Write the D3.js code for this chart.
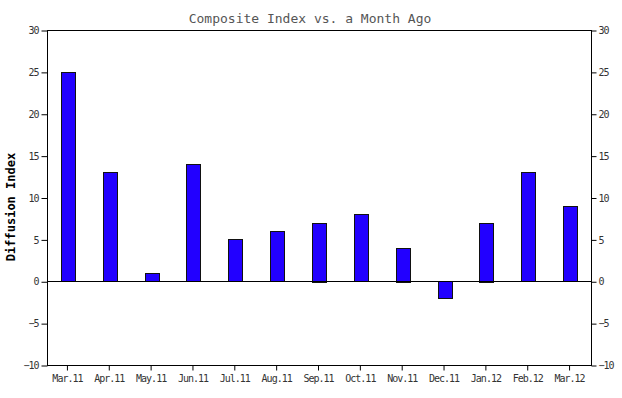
<!DOCTYPE html>
<html><head><meta charset="utf-8">
<script src="https://cdn.jsdelivr.net/npm/d3@7"></script>
<style>body{margin:0;background:#fff}svg{display:block}</style>
</head><body><svg id="c" width="622" height="398"></svg>
<script>
const categories = ["Mar.11","Apr.11","May.11","Jun.11","Jul.11","Aug.11","Sep.11","Oct.11","Nov.11","Dec.11","Jan.12","Feb.12","Mar.12"];
const values = [25, 13, 1, 14, 5, 6, 7, 8, 4, -2, 7, 13, 9];
const yTicks = [-10, -5, 0, 5, 10, 15, 20, 25, 30];
const title = "Composite Index vs. a Month Ago";
const yLabel = "Diffusion Index";

const svg = d3.select("#c");
const L = 47, R = 591, T = 30, B = 365;
const x = d3.scaleBand().domain(categories).range([L, R]).padding(0);
const y = d3.scaleLinear().domain([-10, 30]).range([B, T]);
const font = "'DejaVu Sans Mono', monospace";

// frame
svg.append("rect").attr("x", L + 0.5).attr("y", T + 0.5).attr("width", R - L).attr("height", B - T)
  .attr("fill", "none").attr("stroke", "#000").attr("stroke-width", 1);

// bars
const bw = x.bandwidth() / 3;
svg.append("g").selectAll("rect").data(values).join("rect")
  .attr("x", (d, i) => Math.round(x(categories[i]) + x.bandwidth() / 2 - bw / 2) + 0.5)
  .attr("y", d => Math.round(y(Math.max(0, d))) + 0.5)
  .attr("width", Math.round(bw))
  .attr("height", d => Math.round(Math.abs(y(d) - y(0))))
  .attr("fill", "#2200ff").attr("stroke", "#111").attr("stroke-width", 1);

// zero line
svg.append("line").attr("x1", L).attr("x2", R + 1).attr("y1", Math.round(y(0)) + 0.5).attr("y2", Math.round(y(0)) + 0.5)
  .attr("stroke", "#000");

function styleAxis(g) {
  g.select(".domain").remove();
  g.selectAll("line").attr("stroke", "#000");
  g.selectAll("text").attr("font-family", font).attr("font-size", "10px").attr("fill", "#333")
    .attr("letter-spacing", "-1px");
}

svg.append("g").attr("transform", `translate(${L + 0.5},0.5)`)
  .call(d3.axisLeft(y).tickValues(yTicks).tickSize(6).tickPadding(3)).call(styleAxis);
svg.append("g").attr("transform", `translate(${R + 0.5},0.5)`)
  .call(d3.axisRight(y).tickValues(yTicks).tickSize(5).tickPadding(2)).call(styleAxis);
svg.append("g").attr("transform", `translate(-0.5,${B + 0.5})`)
  .call(d3.axisBottom(x).tickSize(5).tickPadding(4)).call(styleAxis);

// title
svg.append("text").attr("x", 310).attr("y", 23).attr("text-anchor", "middle")
  .attr("font-family", font).attr("font-size", "13px").attr("fill", "#555").text(title);

// y label
svg.append("text").attr("transform", "translate(15,207) rotate(-90)").attr("text-anchor", "middle")
  .attr("font-family", font).attr("font-size", "12px").attr("font-weight", "bold").attr("fill", "#000").text(yLabel);
</script></body></html>
